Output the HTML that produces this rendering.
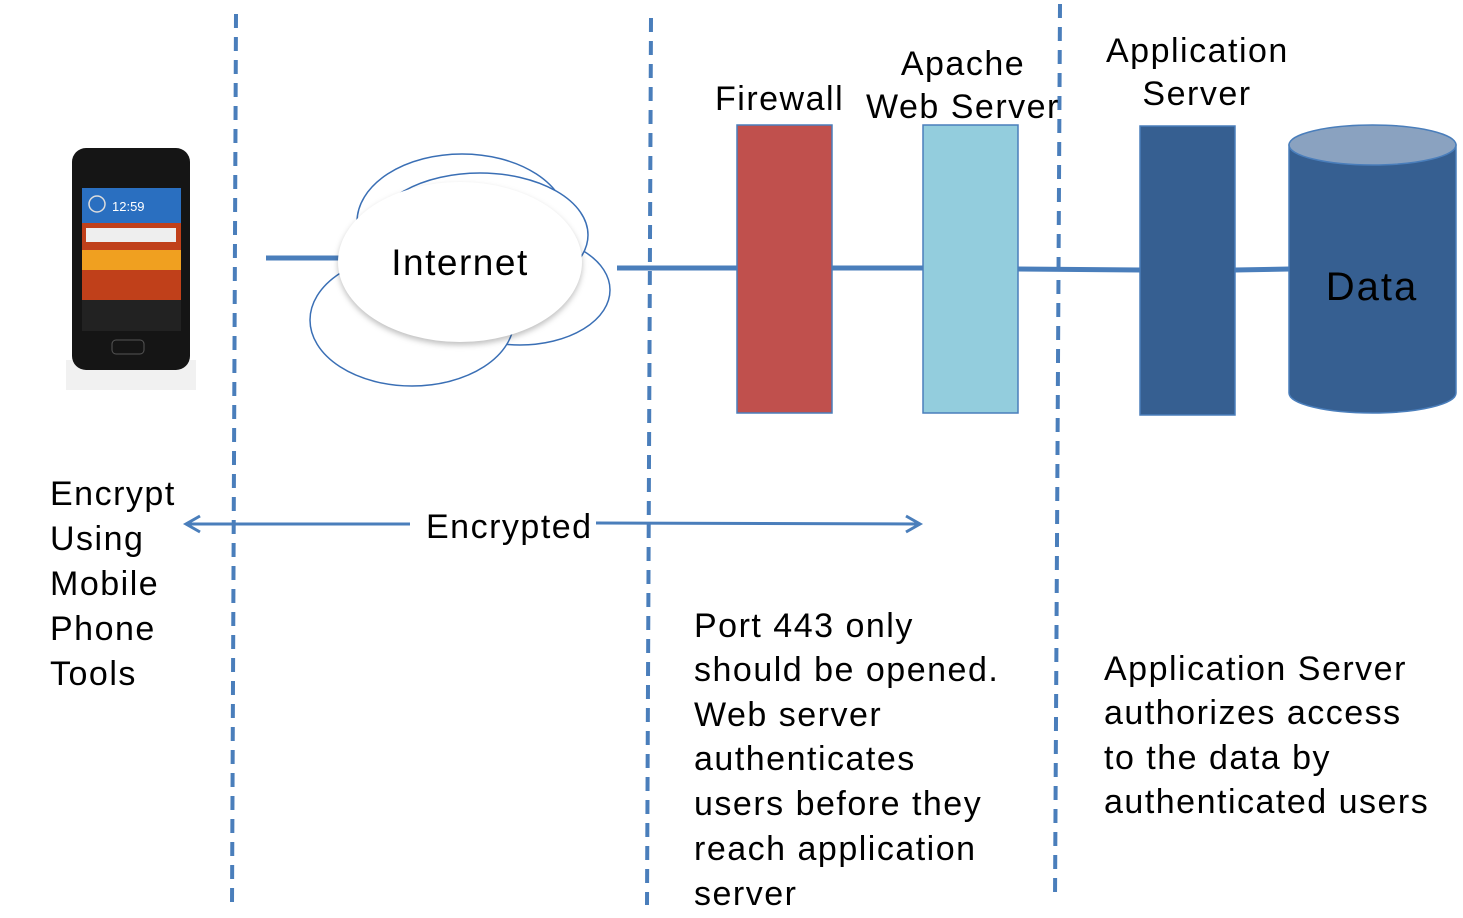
<!DOCTYPE html>
<html><head><meta charset="utf-8"><style>html,body{margin:0;padding:0;background:#fff}svg{display:block}text{font-family:"Liberation Sans",sans-serif;fill:#000}</style></head><body>
<svg width="1463" height="918" viewBox="0 0 1463 918" xmlns="http://www.w3.org/2000/svg">
<g stroke="#4a7ebb" stroke-width="4" stroke-dasharray="14 9" fill="none">
<line x1="236" y1="14" x2="232" y2="905"/>
<line x1="651" y1="18" x2="647" y2="905"/>
<line x1="1060" y1="4" x2="1055" y2="900"/>
</g>
<g stroke="#4a7ebb" stroke-width="5" fill="none">
<line x1="266" y1="258" x2="340" y2="258"/>
<line x1="617" y1="268" x2="737" y2="268"/>
<line x1="832" y1="268" x2="923" y2="268"/>
<line x1="1018" y1="269" x2="1140" y2="270"/>
<line x1="1235" y1="270" x2="1290" y2="269"/>
</g>
<!-- phone -->
<rect x="66" y="360" width="130" height="30" fill="#e8e8e8" opacity="0.6"/>
<rect x="72" y="148" width="118" height="222" rx="14" fill="#151515"/>
<rect x="82" y="188" width="99" height="143" fill="#c0401a"/>
<rect x="82" y="188" width="99" height="35" fill="#2a6fc0"/>
<rect x="82" y="250" width="99" height="20" fill="#f0a020"/>
<rect x="82" y="300" width="99" height="31" fill="#222"/>
<rect x="86" y="228" width="90" height="14" fill="#eee"/>
<text x="112" y="211" font-size="13" style="fill:#fff">12:59</text>
<circle cx="97" cy="204" r="8" fill="none" stroke="#ddd" stroke-width="1.5"/>
<rect x="112" y="340" width="32" height="14" rx="4" fill="none" stroke="#555"/>
<!-- cloud -->
<g fill="#fff" stroke="#3a6fb5" stroke-width="1.5">
<ellipse cx="520" cy="290" rx="90" ry="55"/>
<ellipse cx="462" cy="222" rx="105" ry="68"/>
<ellipse cx="480" cy="235" rx="108" ry="62"/>
<ellipse cx="412" cy="320" rx="102" ry="66"/>
</g>
<ellipse cx="460" cy="262" rx="122" ry="80" fill="#fff" style="filter:drop-shadow(0 3px 3px rgba(0,0,0,.25))"/>
<text x="460" y="275" font-size="37" letter-spacing="1.5" text-anchor="middle">Internet</text>
<!-- boxes -->
<rect x="737" y="125" width="95" height="288" fill="#c0504d" stroke="#4a7ebb" stroke-width="1.5"/>
<rect x="923" y="125" width="95" height="288" fill="#93cddd" stroke="#4a7ebb" stroke-width="1.5"/>
<rect x="1140" y="126" width="95" height="289" fill="#365f91" stroke="#4a7ebb" stroke-width="1.5"/>
<path d="M1289 145 L1289 393 A83.5 20 0 0 0 1456 393 L1456 145 Z" fill="#365f91" stroke="#4a7ebb" stroke-width="1.5"/>
<ellipse cx="1372.5" cy="145" rx="83.5" ry="20" fill="#8aa2c0" stroke="#4a7ebb" stroke-width="1.5"/>
<text x="1372" y="300" font-size="40" letter-spacing="2" text-anchor="middle">Data</text>
<!-- labels -->
<g font-size="34" letter-spacing="1.5">
<text x="715" y="110">Firewall</text>
<text x="963" y="75" text-anchor="middle">Apache</text>
<text x="866" y="118">Web Server</text>
<text x="1106" y="62">Application</text>
<text x="1197" y="105" text-anchor="middle">Server</text>
<text x="50" y="505">Encrypt</text>
<text x="50" y="550">Using</text>
<text x="50" y="595">Mobile</text>
<text x="50" y="640">Phone</text>
<text x="50" y="685">Tools</text>
<text x="426" y="538">Encrypted</text>
<text x="694" y="637">Port 443 only</text>
<text x="694" y="681">should be opened.</text>
<text x="694" y="726">Web server</text>
<text x="694" y="770">authenticates</text>
<text x="694" y="815">users before they</text>
<text x="694" y="860">reach application</text>
<text x="694" y="905">server</text>
<text x="1104" y="680">Application Server</text>
<text x="1104" y="724">authorizes access</text>
<text x="1104" y="769">to the data by</text>
<text x="1104" y="813">authenticated users</text>
</g>
<g stroke="#4a7ebb" stroke-width="3" fill="none">
<line x1="410" y1="524" x2="186" y2="524"/>
<polyline points="200,516 186,524 200,532"/>
<line x1="596" y1="523" x2="920" y2="524"/>
<polyline points="906,516 920,524 906,532"/>
</g>
</svg>
</body></html>
